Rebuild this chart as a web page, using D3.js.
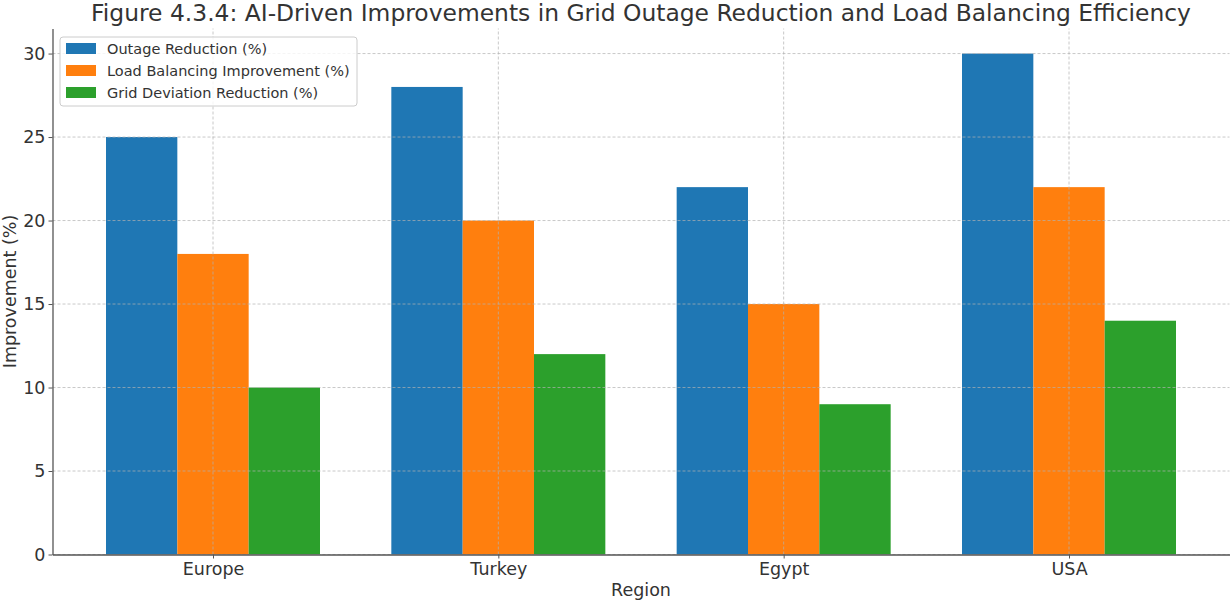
<!DOCTYPE html>
<meta charset="utf-8">
<style>
body { margin: 0; background: #fff; }
svg { display: block; font-family: "DejaVu Sans", sans-serif; }
.grid line { stroke: #b0b0b0; stroke-dasharray: 3,2; stroke-opacity: 0.7; }
</style>
<body>
<svg id="chart" width="1231" height="601"></svg>
</body>
<script src="https://d3js.org/d3.v7.min.js"></script>
<script>
// data
var regions = ["Europe", "Turkey", "Egypt", "USA"];
var seriesNames = ["Outage Reduction (%)", "Load Balancing Improvement (%)", "Grid Deviation Reduction (%)"];
var outage = [25, 28, 22, 30];
var loadBalancing = [18, 20, 15, 22];
var gridDeviation = [10, 12, 9, 14];
var yTicks = [0, 5, 10, 15, 20, 25, 30];
var colors = ["#1f77b4", "#ff7f0e", "#2ca02c"];

var series = [outage, loadBalancing, gridDeviation];
var barW = 0.25;

var margin = { left: 52.5, right: 1.5, top: 28.5, bottom: 46.5 },
  width = 1231, height = 601,
  svg = d3.select("#chart"),
  g = svg.append("g");

// x in category-index units, like matplotlib's bar positions
var x = d3.scaleLinear().domain([-0.5625, 3.5625]).range([margin.left, width - margin.right]);
var y = d3.scaleLinear().domain([0, 31.5]).range([height - margin.bottom, margin.top]);

// bars
series.forEach(function (vals, s) {
  g.append("g").selectAll("rect").data(vals).enter().append("rect")
    .attr("x", function (d, i) { return x(i + (s - 1) * barW - barW / 2); })
    .attr("width", x(barW) - x(0))
    .attr("y", function (d) { return y(d); })
    .attr("height", function (d) { return y(0) - y(d); })
    .attr("fill", colors[s]);
});

// grid over the bars
var grid = g.append("g").attr("class", "grid");
grid.selectAll("line.h").data(yTicks).enter().append("line")
  .attr("x1", x.range()[0]).attr("x2", x.range()[1])
  .attr("y1", function (d) { return y(d); }).attr("y2", function (d) { return y(d); });
grid.selectAll("line.v").data(regions).enter().append("line")
  .attr("y1", y.range()[0]).attr("y2", y.range()[1])
  .attr("x1", function (d, i) { return x(i); }).attr("x2", function (d, i) { return x(i); });

// axes
var xAxis = g.append("g").attr("transform", "translate(0," + y(0) + ")")
  .call(d3.axisBottom(x).tickValues(d3.range(regions.length)).tickFormat(function (i) { return regions[i]; }).tickSize(4).tickPadding(4).tickSizeOuter(0));
var yAxis = g.append("g").attr("transform", "translate(" + x.range()[0] + ",0)")
  .call(d3.axisLeft(y).tickValues(yTicks).tickSize(4).tickPadding(3).tickSizeOuter(0));

[xAxis, yAxis].forEach(function (a) {
  a.select(".domain").attr("stroke", "#555").attr("stroke-width", 1.3);
  a.selectAll(".tick line").attr("stroke", "#555");
  a.selectAll(".tick text").attr("fill", "#333").style("font-size", "17.5px").style("font-family", "DejaVu Sans");
});

// title and labels
svg.append("text").attr("x", (x.range()[0] + x.range()[1]) / 2).attr("y", 21)
  .attr("text-anchor", "middle").attr("fill", "#333").style("font-size", "23.4px")
  .text("Figure 4.3.4: AI-Driven Improvements in Grid Outage Reduction and Load Balancing Efficiency");
svg.append("text").attr("x", (x.range()[0] + x.range()[1]) / 2).attr("y", 596)
  .attr("text-anchor", "middle").attr("fill", "#333").style("font-size", "17.5px").text("Region");
svg.append("text").attr("transform", "translate(16," + ((y.range()[0] + y.range()[1]) / 2) + ") rotate(-90)")
  .attr("text-anchor", "middle").attr("fill", "#333").style("font-size", "17.5px").text("Improvement (%)");

// legend
var legend = svg.append("g").attr("transform", "translate(60,37)");
legend.append("rect").attr("width", 297).attr("height", 69).attr("rx", 3)
  .attr("fill", "#fff").attr("fill-opacity", 0.8).attr("stroke", "#ccc");
var items = legend.selectAll("g.item").data(seriesNames).enter().append("g")
  .attr("transform", function (d, i) { return "translate(6," + (6 + i * 22) + ")"; });
items.append("rect").attr("width", 30).attr("height", 11).attr("fill", function (d, i) { return colors[i]; });
items.append("text").attr("x", 41).attr("y", 11).attr("fill", "#333").style("font-size", "14.5px")
  .text(function (d) { return d; });
</script>
